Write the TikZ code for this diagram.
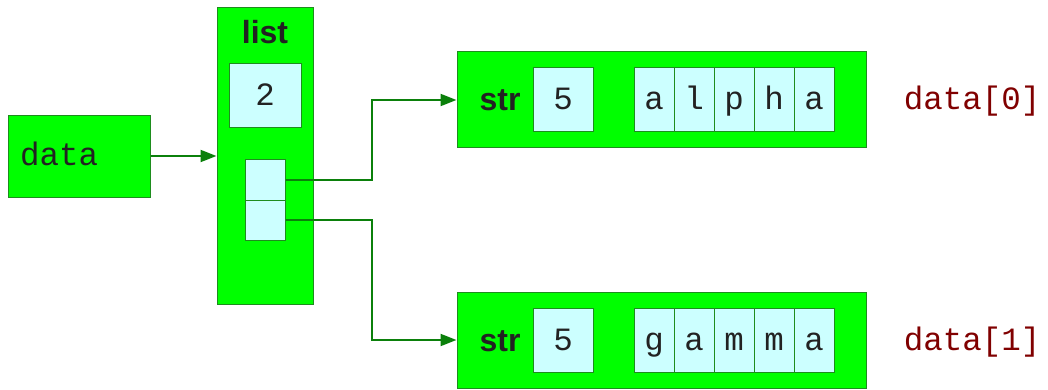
\documentclass[tikz,border=0pt]{standalone}
\usepackage{fontspec}
\setmainfont{Liberation Sans}
\setsansfont{Liberation Sans}
\setmonofont{Liberation Mono}
\usetikzlibrary{arrows.meta}
\definecolor{boxgreen}{HTML}{00FF00}
\definecolor{edgegreen}{HTML}{1E8C1E}
\definecolor{arrgreen}{HTML}{0B800B}
\definecolor{cellcyan}{HTML}{CCFFFF}
\definecolor{txt}{HTML}{222222}
\definecolor{idxred}{HTML}{800000}
\tikzset{
  obj/.style={draw=edgegreen, fill=boxgreen, line width=1pt, inner sep=0pt},
  cell/.style={draw=edgegreen, fill=cellcyan, line width=1pt, inner sep=0pt,
    text=txt, font=\fontsize{32.5}{36}\selectfont\ttfamily, text height=23pt, text depth=3pt},
  hdr/.style={text=txt, font=\fontsize{32}{36}\selectfont\sffamily\bfseries, inner sep=0pt,
    text height=23pt, text depth=1pt},
  idx/.style={text=idxred, font=\fontsize{32.5}{36}\selectfont\ttfamily, inner sep=0pt,
    text height=23pt, text depth=3pt},
  arr/.style={draw=arrgreen, line width=2pt, -{Triangle[length=16pt,width=12pt]}},
}
\begin{document}
\begin{tikzpicture}[x=1pt,y=-1pt]
\useasboundingbox (0,0) rectangle (1048,390);
% data variable
\node[obj, minimum width=142pt, minimum height=81pt, text width=118pt, inner xsep=12pt,
  align=left, text=txt, font=\fontsize{32.5}{36}\selectfont\ttfamily,
  text height=23pt, text depth=4pt] (data) at (79,156.5) {data};
% list object
\node[obj, minimum width=96pt, minimum height=296pt] (list) at (265,156) {};
\node[hdr] (listlbl) at (265,33) {list};
\node[cell, minimum width=72pt, minimum height=64pt] (len) at (265,96) {2};
\node[cell, minimum width=40pt, minimum height=40pt] (c1) at (265,180) {};
\node[cell, minimum width=40pt, minimum height=40pt] (c2) at (265,220) {};
% str objects
\foreach \n/\y/\w/\i in {a/100/{a,l,p,h,a}/0, b/340/{g,a,m,m,a}/1}{
  \node[obj, minimum width=409pt, minimum height=96pt] (str\n) at (661.5,\y) {};
  \node[hdr] (strlbl\n) at (500,\y) {str};
  \node[cell, minimum width=60pt, minimum height=64pt] (len\n) at (563,\y) {5};
  \foreach \ch [count=\k] in \w {
    \node[cell, minimum width=40pt, minimum height=64pt] (ch\n\k) at ({614+40*\k},\y) {\ch};
  }
  \node[idx] (idx\n) at (972,\y) {data[\i]};
}
% connectors
\draw[arr] (data.east |- 0,156) -- (list.west |- 0,156);
\draw[arr] (c1.east) -- (372,180) |- (stra.west);
\draw[arr] (c2.east) -- (372,220) |- (strb.west);
\end{tikzpicture}
\end{document}
